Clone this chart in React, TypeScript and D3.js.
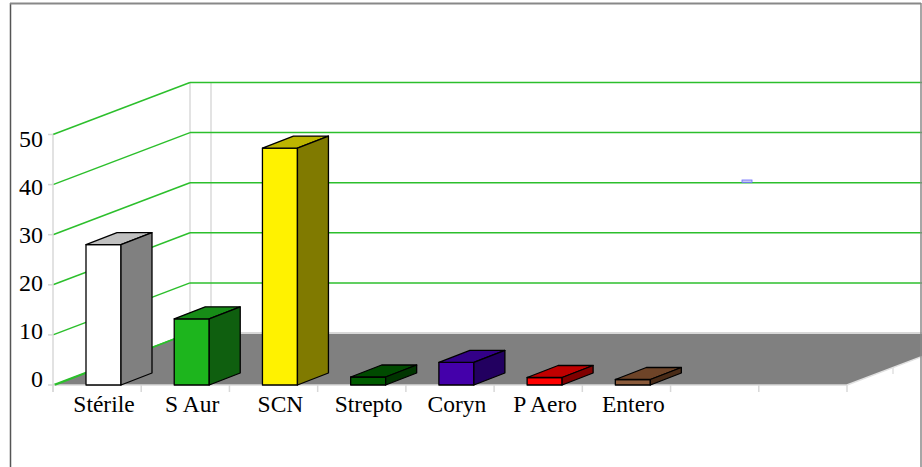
import React from "react";
import * as d3 from "d3";

// data
const categories = ["Stérile", "S Aur", "SCN", "Strepto", "Coryn", "P Aero", "Entero"];
const values = [28, 13.2, 47.3, 1.6, 4.5, 1.5, 1.1];
const yTicks = [0, 10, 20, 30, 40, 50];
const slots = [...categories, "_8", "_9"]; // two empty slots on the right

// front / top / side shades for each bar
const barColors = [
  ["#ffffff", "#c0c0c0", "#808080"],
  ["#1db51d", "#178c17", "#0f5f0f"],
  ["#fff200", "#bdb500", "#807a00"],
  ["#005c00", "#004a00", "#003500"],
  ["#4400aa", "#330088", "#220060"],
  ["#ff0000", "#c00000", "#800000"],
  ["#8a5a3a", "#6e4428", "#4a2c18"],
];

const W = 922;
const H = 467;
const DX = 137; // floor depth
const DY = 52;
const BDX = 31; // bar depth
const BDY = 12;
const GREEN = "#2cbf2c";
const FONT = "'Liberation Serif', 'Times New Roman', serif";

export default function App() {
  const x = d3.scaleBand<string>().domain(slots).range([53, 847]);
  const y = d3.scaleLinear().domain([0, 50]).range([385, 134.5]);
  // tick labels are spaced a bit tighter than the grid in the original
  const yLab = d3.scaleLinear().domain([0, 50]).range([387, 147]);

  const x0 = x.range()[0];
  const x1 = x.range()[1];
  const yb = y(0);
  const right = W + 60;

  const pts = (p: number[][]) => p.map((q) => q.join(",")).join(" ");

  return (
    <div style={{ position: "absolute", left: 0, top: 0 }}>
      <svg width={W} height={H} style={{ display: "block", overflow: "hidden" }}>
        <rect width={W} height={H} fill="#fff" />

        {/* back wall verticals */}
        <line x1={x0 + DX} x2={x0 + DX} y1={y(50) - DY} y2={yb - DY} stroke="#dadada" strokeWidth={1.5} />
        <line x1={x0 + DX + 21} x2={x0 + DX + 21} y1={y(50) - DY} y2={yb - DY} stroke="#dadada" strokeWidth={1.5} />

        {/* grid: left wall diagonals + back wall horizontals */}
        {yTicks.map((t) => (
          <g key={t}>
            <line x1={x0} y1={y(t)} x2={x0 + DX} y2={y(t) - DY} stroke={GREEN} strokeWidth={1.5} />
            {t > 0 && (
              <line x1={x0 + DX} y1={y(t) - DY} x2={right} y2={y(t) - DY} stroke={GREEN} strokeWidth={1.5} />
            )}
          </g>
        ))}

        {/* floor */}
        <polygon
          points={pts([[x0 + 2, yb], [x0 + DX, yb - DY], [x1 + DX, yb - DY], [x1, yb]])}
          fill="#808080"
        />
        <line x1={x0 + DX} y1={yb - DY} x2={right} y2={yb - DY} stroke="#d8d8d8" strokeWidth={2} />
        <line x1={x0} y1={yb} x2={x1} y2={yb} stroke="#d8d8d8" strokeWidth={1.5} />
        <line x1={x1} y1={yb} x2={x1 + DX} y2={yb - DY} stroke="#e0e0e0" strokeWidth={1.5} />
        <line x1={x0 + 2} y1={yb} x2={x0 + DX} y2={yb - DY} stroke={GREEN} strokeWidth={1.5} />

        {/* left axis */}
        <line x1={x0} x2={x0} y1={y(50)} y2={yb + 7} stroke="#d8d8d8" strokeWidth={1.5} />
        {yTicks.map((t) => (
          <line key={t} x1={x0 - 5} x2={x0} y1={y(t)} y2={y(t)} stroke="#d8d8d8" strokeWidth={1.5} />
        ))}
        {/* bottom ticks */}
        {slots.map((s) => (
          <line key={s} x1={x(s)!} x2={x(s)!} y1={yb} y2={yb + 7} stroke="#d8d8d8" strokeWidth={1.5} />
        ))}
        <line x1={x1} x2={x1} y1={yb} y2={yb + 7} stroke="#d8d8d8" strokeWidth={1.5} />
        <line x1={x1 + 46} x2={x1 + 46} y1={yb - 18} y2={yb - 11} stroke="#e0e0e0" strokeWidth={1.5} />

        {/* bars */}
        {categories.map((c, i) => {
          const bx0 = x(c)! + 33;
          const bx1 = bx0 + 35;
          const yt = y(values[i]);
          const [front, top, side] = barColors[i];
          return (
            <g key={c} stroke="#000" strokeWidth={1.3} strokeLinejoin="round">
              <polygon points={pts([[bx0, yt], [bx1, yt], [bx1, yb], [bx0, yb]])} fill={front} />
              <polygon points={pts([[bx0, yt], [bx0 + BDX, yt - BDY], [bx1 + BDX, yt - BDY], [bx1, yt]])} fill={top} />
              <polygon points={pts([[bx1, yt], [bx1 + BDX, yt - BDY], [bx1 + BDX, yb - BDY], [bx1, yb]])} fill={side} />
            </g>
          );
        })}

        {/* y tick labels */}
        {yTicks.map((t) => (
          <text key={t} x={43} y={yLab(t)} textAnchor="end" fontFamily={FONT} fontSize={24} fill="#000">
            {t}
          </text>
        ))}

        {/* category labels */}
        {categories.map((c) => (
          <text
            key={c}
            x={x(c)! + 51}
            y={412}
            textAnchor="middle"
            fontFamily={FONT}
            fontSize={23.5}
            fill="#000"
          >
            {c}
          </text>
        ))}

        {/* stray legend marker */}
        <rect x={742} y={180} width={10} height={2.5} fill="#c8c8f0" stroke="#6a6aff" strokeWidth={0.8} />

        {/* frame */}
        <line x1={10.5} x2={10.5} y1={3} y2={H} stroke="#555" strokeWidth={1.5} />
        <line x1={10} x2={921} y1={3.5} y2={3.5} stroke="#888" strokeWidth={2} />
        <line x1={921} x2={921} y1={3} y2={H} stroke="#888" strokeWidth={1.5} />
      </svg>
    </div>
  );
}
